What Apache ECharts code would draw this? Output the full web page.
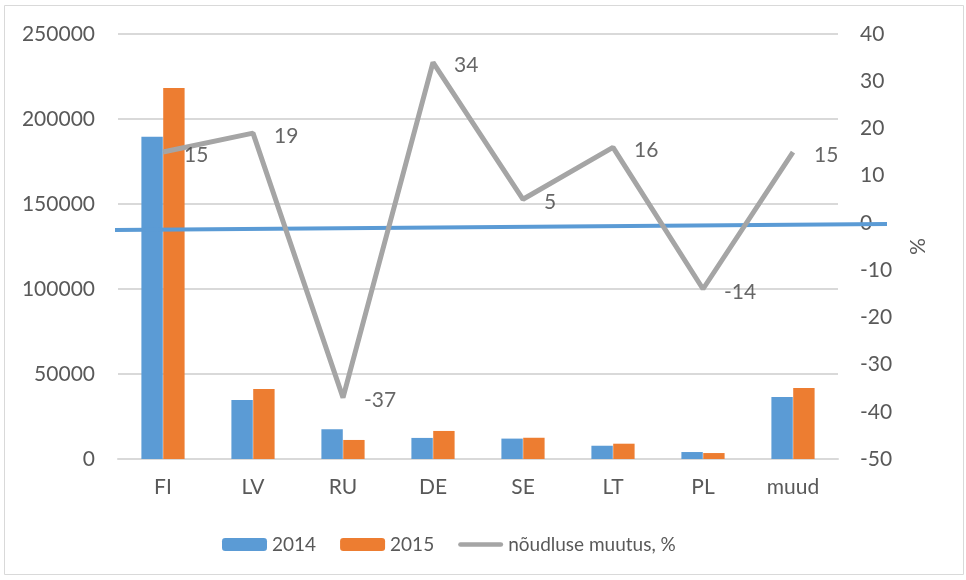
<!DOCTYPE html>
<html>
<head>
<meta charset="utf-8">
<script src="https://cdn.jsdelivr.net/npm/echarts@6/dist/echarts.min.js"></script>
<style>html,body{margin:0;padding:0;background:#fff}#c{width:966px;height:580px}</style>
</head>
<body>
<div id="c"></div>
<script>
const categories = ['FI', 'LV', 'RU', 'DE', 'SE', 'LT', 'PL', 'muud'];
const values2014 = [189500, 34700, 17500, 12400, 12000, 7800, 4100, 36500];
const values2015 = [218200, 41200, 11200, 16500, 12500, 9000, 3500, 41800];
const demandChange = [15, 19, -37, 34, 5, 16, -14, 15];
const trendX = [-0.53, 8.04];
const trendY = [-1.5, -0.25];
const leftTicks = { min: 0, max: 250000, interval: 50000 };
const rightTicks = { min: -50, max: 40, interval: 10 };

const font = 'Lato, "Noto Sans", sans-serif';
const lineIcon = 'path://M2.5,0 L45.5,0 A2.5,2.5 0 0 1 45.5,5 L2.5,5 A2.5,2.5 0 0 1 2.5,0 Z';
const chart = echarts.init(document.getElementById('c'));
chart.setOption({
  animation: false,
  textStyle: { fontFamily: font },
  grid: [
    { left: 118, right: 128, top: 34, bottom: 121, containLabel: false },
    { left: 115, right: 79, top: 34, bottom: 121, containLabel: false }
  ],
  graphic: [{
    type: 'rect', shape: { x: 4.5, y: 5.5, width: 959, height: 569 },
    style: { fill: 'none', stroke: '#D9D9D9', lineWidth: 1 }, silent: true, z: -1
  }],
  legend: {
    bottom: 21, left: 217, itemWidth: 45, itemHeight: 13, itemGap: 24,
    textStyle: { fontSize: 19, color: '#595959', fontFamily: font },
    data: ['2014', '2015', { name: 'nõudluse muutus, %', icon: lineIcon, itemStyle: { color: '#A5A5A5' } }]
  },
  xAxis: [{
    type: 'category', data: categories, gridIndex: 0,
    axisLine: { lineStyle: { color: '#D9D9D9', width: 2 } },
    axisTick: { show: false },
    axisLabel: { fontSize: 21, color: '#595959', margin: 18, fontFamily: font }
  }, {
    type: 'value', gridIndex: 1, min: trendX[0], max: trendX[1], show: false
  }],
  yAxis: [{
    type: 'value', gridIndex: 0, min: leftTicks.min, max: leftTicks.max, interval: leftTicks.interval,
    axisLine: { show: false }, axisTick: { show: false },
    splitLine: { lineStyle: { color: '#D9D9D9', width: 2 } },
    axisLabel: { fontSize: 21, color: '#595959', margin: 23, fontFamily: font, formatter: v => String(v) }
  }, {
    type: 'value', gridIndex: 0, min: rightTicks.min, max: rightTicks.max, interval: rightTicks.interval,
    position: 'right',
    axisLine: { show: false }, axisTick: { show: false }, splitLine: { show: false },
    axisLabel: { fontSize: 21, color: '#595959', margin: 22, fontFamily: font },
    name: '%', nameLocation: 'middle', nameRotate: -90, nameGap: 68,
    nameTextStyle: { fontSize: 21, color: '#595959', fontFamily: font }
  }, {
    type: 'value', gridIndex: 1, min: rightTicks.min, max: rightTicks.max, show: false
  }],
  series: [{
    name: '2014', type: 'bar', data: values2014, barGap: '2%', barCategoryGap: '52%',
    itemStyle: { color: '#5B9BD5' }
  }, {
    name: '2015', type: 'bar', data: values2015, barGap: '2%', barCategoryGap: '52%',
    itemStyle: { color: '#ED7D31' }
  }, {
    name: 'trend', type: 'line', xAxisIndex: 1, yAxisIndex: 2,
    data: trendX.map((x, i) => [x, trendY[i]]),
    symbol: 'none', lineStyle: { color: '#5B9BD5', width: 4 }, z: 3
  }, {
    name: 'nõudluse muutus, %', type: 'line', yAxisIndex: 1, data: demandChange,
    symbol: 'none', z: 4,
    lineStyle: { color: '#A5A5A5', width: 5 }, itemStyle: { color: '#A5A5A5' }
  }, {
    name: 'labels', type: 'scatter', yAxisIndex: 1, data: demandChange,
    symbolSize: 2, itemStyle: { color: 'rgba(0,0,0,0)' }, z: 5, silent: true,
    label: { show: true, position: 'right', distance: 20, offset: [0, 3],
      fontSize: 21, color: '#404040', fontFamily: font }
  }]
});
</script>
</body>
</html>
